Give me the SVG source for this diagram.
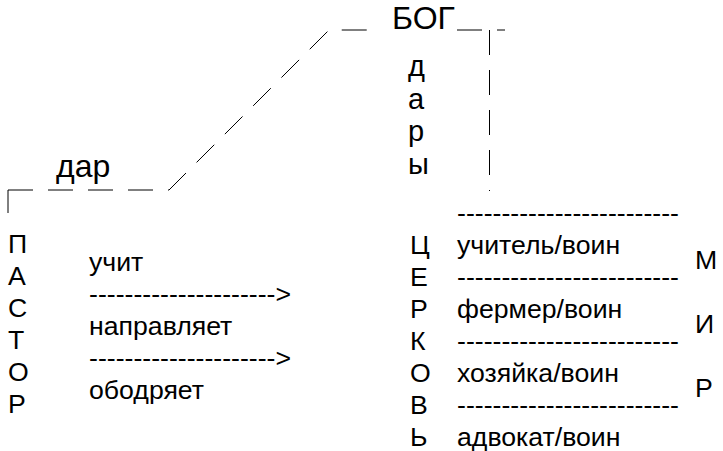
<svg xmlns="http://www.w3.org/2000/svg" width="723" height="451" viewBox="0 0 723 451">
<style>
text{font-family:"Liberation Sans",Arial,sans-serif;fill:#000}
.big{font-size:32px}
.mid{font-size:29px}
.t{font-size:26.67px}
.ln{fill:none;stroke:#000;stroke-width:1}
.dash{fill:none;stroke:#000;stroke-width:1;stroke-dasharray:25 15}
</style>
<rect width="723" height="451" fill="#fff"/>
<g id="connectors">
<line class="ln" x1="8" y1="190" x2="8" y2="213"/>
<polyline class="dash" points="8,190 169,190 329,30 368,30"/>
<line class="dash" x1="457" y1="30" x2="505" y2="30"/>
<line class="dash" x1="489.5" y1="30" x2="489.5" y2="191"/>
</g>
<g id="node-bog"><text class="big" x="392" y="29">БОГ</text></g>
<g id="node-dar"><text class="big" x="56" y="177">дар</text></g>
<g id="node-dary"><text class="mid"><tspan x="408" y="76">д</tspan><tspan x="408" y="108.5">а</tspan><tspan x="408" y="141">р</tspan><tspan x="408" y="173.5">ы</tspan></text></g>
<g id="node-pastor"><text class="t"><tspan x="8" y="253">П</tspan><tspan x="8" y="285">А</tspan><tspan x="8" y="317">С</tspan><tspan x="8" y="349">Т</tspan><tspan x="8" y="381">О</tspan><tspan x="8" y="413">Р</tspan></text></g>
<g id="node-actions"><text class="t"><tspan x="89" y="271">учит</tspan><tspan x="89" y="303">---------------------&gt;</tspan><tspan x="89" y="335">направляет</tspan><tspan x="89" y="367">---------------------&gt;</tspan><tspan x="89" y="399">ободряет</tspan></text></g>
<g id="node-church"><text class="t"><tspan x="410" y="254">Ц</tspan><tspan x="410" y="286">Е</tspan><tspan x="410" y="318">Р</tspan><tspan x="410" y="350">К</tspan><tspan x="410" y="382">О</tspan><tspan x="410" y="414">В</tspan><tspan x="410" y="446">Ь</tspan></text></g>
<g id="node-roles"><text class="t"><tspan x="457" y="222">-------------------------</tspan><tspan x="457" y="254">учитель/воин</tspan><tspan x="457" y="286">-------------------------</tspan><tspan x="457" y="318">фермер/воин</tspan><tspan x="457" y="350">-------------------------</tspan><tspan x="457" y="382">хозяйка/воин</tspan><tspan x="457" y="414">-------------------------</tspan><tspan x="457" y="446">адвокат/воин</tspan></text></g>
<g id="node-mir"><text class="t"><tspan x="695" y="269">М</tspan><tspan x="695" y="333">И</tspan><tspan x="695" y="397">Р</tspan></text></g>
</svg>
